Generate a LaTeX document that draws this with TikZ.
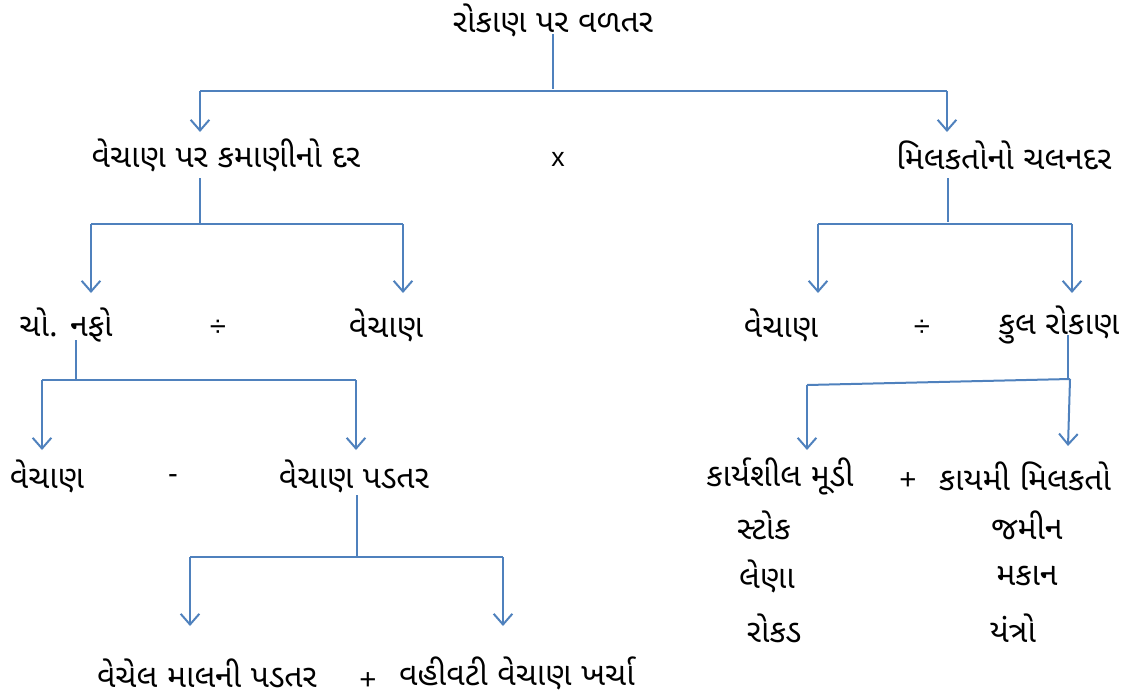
\documentclass[tikz,border=0pt]{standalone}
\usepackage{fontspec}
\newfontfamily\guj[Script=Gujarati]{Noto Sans Gujarati UI}
\newfontfamily\opfont{Liberation Sans}
\usetikzlibrary{arrows.meta}
\definecolor{lineblue}{HTML}{4F81BD}
\tikzset{
  lbl/.style={font=\guj\fontsize{24}{28}\selectfont, inner sep=0pt, anchor=center},
  op/.style={font=\opfont\fontsize{22}{24}\selectfont, inner sep=0pt, anchor=center},
  opx/.style={font=\opfont\fontsize{20}{22}\selectfont, inner sep=0pt, anchor=center},
  conn/.style={draw=lineblue, line width=1.5pt},
  arr/.style={conn, -{Straight Barb[length=8pt,width=14pt,line width=1.5pt]}},
}
\begin{document}
\begin{tikzpicture}[x=0.75pt,y=-0.75pt]
\useasboundingbox (0,0) rectangle (1130,696);
% nodes
\node[lbl] (title) at (553,20) {રોકાણ પર વળતર};
\node[lbl] (vpk) at (226,155) {વેચાણ પર કમાણીનો દર};
\node[opx] (times) at (558,159) {x};
\node[lbl] (mcd) at (1004,155) {મિલકતોનો ચલનદર};
\node[lbl] (nafo) at (66,325) {ચો. નફો};
\node[op] (div1) at (218,328) {÷};
\node[lbl] (vech1) at (386,325) {વેચાણ};
\node[lbl] (vech2) at (781,325) {વેચાણ};
\node[op] (div2) at (922,328) {÷};
\node[lbl] (kul) at (1059,325) {કુલ રોકાણ};
\node[lbl] (vech3) at (47,476) {વેચાણ};
\node[op] (minus) at (173,479) {-};
\node[lbl] (padtar) at (354,476) {વેચાણ પડતર};
\node[lbl] (karya) at (780,476) {કાર્યશીલ મૂડી};
\node[op] (plus1) at (908,481) {+};
\node[lbl] (kayami) at (1025,476) {કાયમી મિલકતો};
\node[lbl] (stock) at (764,525) {સ્ટોક};
\node[lbl] (lena) at (767,576) {લેણા};
\node[lbl] (rokad) at (774,628) {રોકડ};
\node[lbl] (jamin) at (1027,525) {જમીન};
\node[lbl] (makan) at (1027,576) {મકાન};
\node[lbl] (yantro) at (1013,628) {યંત્રો};
\node[lbl] (vechel) at (207,673) {વેચેલ માલની પડતર};
\node[op] (plus2) at (368,681) {+};
\node[lbl] (vahivat) at (517,673) {વહીવટી વેચાણ ખર્ચા};
% junction coordinates
\coordinate (t0) at (553,34);
\coordinate (t1) at (553,89);
\coordinate (tL) at (200,91);
\coordinate (tR) at (947,91);
\coordinate (aL) at (200,132);
\coordinate (aR) at (947,132);
\coordinate (l0) at (200,178);
\coordinate (l1) at (200,224);
\coordinate (lL) at (91,224);
\coordinate (lR) at (403,224);
\coordinate (bL) at (91,293);
\coordinate (bR) at (403,293);
\coordinate (r0) at (948,178);
\coordinate (r1) at (948,222);
\coordinate (rL) at (818,224);
\coordinate (rR) at (1072,224);
\coordinate (cL) at (818,293);
\coordinate (cR) at (1072,293);
\coordinate (n0) at (76,340);
\coordinate (n1) at (76,380);
\coordinate (nL) at (42,380);
\coordinate (nR) at (356,380);
\coordinate (dL) at (42,450);
\coordinate (dR) at (356,450);
\coordinate (k0) at (1068,335);
\coordinate (k1) at (1068,379);
\coordinate (kL) at (807,385);
\coordinate (kR) at (1070,379);
\coordinate (eL) at (807,450);
\coordinate (eR) at (1068,446);
\coordinate (p0) at (357,495);
\coordinate (p1) at (357,557);
\coordinate (pL) at (190,557);
\coordinate (pR) at (503,557);
\coordinate (fL) at (190,626);
\coordinate (fR) at (503,626);
% connectors
\draw[conn] (t0) -- (t1);
\draw[conn] (tL) -- (tR);
\draw[arr] (tL) -- (aL);
\draw[arr] (tR) -- (aR);
\draw[conn] (l0) -- (l1);
\draw[conn] (lL) -- (lR);
\draw[arr] (lL) -- (bL);
\draw[arr] (lR) -- (bR);
\draw[conn] (r0) -- (r1);
\draw[conn] (rL) -- (rR);
\draw[arr] (rL) -- (cL);
\draw[arr] (rR) -- (cR);
\draw[conn] (n0) -- (n1);
\draw[conn] (nL) -- (nR);
\draw[arr] (nL) -- (dL);
\draw[arr] (nR) -- (dR);
\draw[conn] (k0) -- (k1);
\draw[conn] (kL) -- (kR);
\draw[arr] (kL) -- (eL);
\draw[arr] (kR) -- (eR);
\draw[conn] (p0) -- (p1);
\draw[conn] (pL) -- (pR);
\draw[arr] (pL) -- (fL);
\draw[arr] (pR) -- (fR);
\end{tikzpicture}
\end{document}
